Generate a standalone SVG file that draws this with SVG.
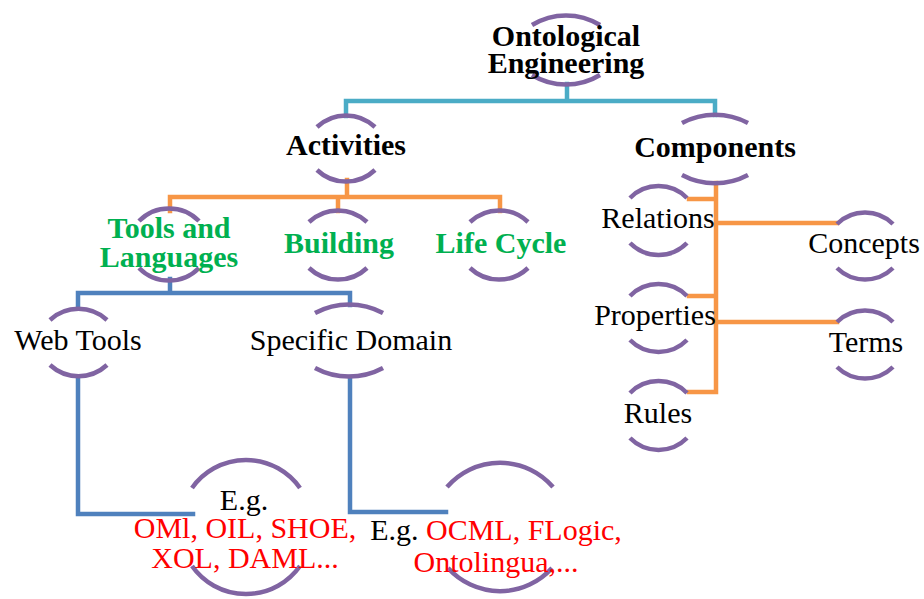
<svg xmlns="http://www.w3.org/2000/svg" width="924" height="599" viewBox="0 0 924 599">
<style>
.arc{fill:none;stroke:#8064A2;stroke-width:4.5;stroke-linecap:butt}
.c{fill:none;stroke-width:4.5;stroke-linejoin:miter;stroke-linecap:square}
.cy{stroke:#4BACC6}
.or{stroke:#F79646}
.bl{stroke:#4F81BD}
text{font-family:"Liberation Serif","Times New Roman",serif;font-size:30px;fill:#000;text-anchor:middle}
.b{font-weight:bold}
.g{fill:#00B050}
.r{fill:#FF0000}
</style>
<rect width="924" height="599" fill="#fff"/>
<g id="connectors">
<path class="c cy" d="M567,84 V101 M346,116 V101 H715 V115"/>
<path class="c or" d="M347,180 V197 M170,211 V197 H500 V211 M338,197 V211"/>
<path class="c or" d="M716,183 V392 H689 M689,199 H716 M716,223 H837 M689,296 H716 M716,322 H837"/>
<path class="c bl" d="M170,279 V293 M78,308 V293 H350 V305"/>
<path class="c bl" d="M78,378 V514 H193 M350,377 V512 H446"/>
</g>
<g id="ontological">
<path class="arc" d="M532,25 A65,65 0 0 1 600,25 M532,75 A65,65 0 0 0 600,75"/>
<text class="b" x="566" y="46">Ontological</text>
<text class="b" x="566" y="73">Engineering</text>
</g>
<g id="activities">
<path class="arc" d="M317,127 A42,42 0 0 1 375,127 M317,170 A42,42 0 0 0 375,170"/>
<text class="b" x="346" y="155">Activities</text>
</g>
<g id="components">
<path class="arc" d="M682,123 A70,70 0 0 1 748,123 M682,175 A70,70 0 0 0 748,175"/>
<text class="b" x="715" y="157">Components</text>
</g>
<g id="tools">
<path class="arc" d="M139,221 A42,42 0 0 1 199,221 M139,268 A42,42 0 0 0 199,268"/>
<text class="b g" x="169" y="238">Tools and</text>
<text class="b g" x="169" y="267">Languages</text>
</g>
<g id="building">
<path class="arc" d="M309,222 A42,42 0 0 1 367,222 M309,268 A42,42 0 0 0 367,268"/>
<text class="b g" x="339" y="253">Building</text>
</g>
<g id="lifecycle">
<path class="arc" d="M470,222 A42,42 0 0 1 528,222 M470,268 A42,42 0 0 0 528,268"/>
<text class="b g" x="501" y="253">Life Cycle</text>
</g>
<g id="webtools">
<path class="arc" d="M50,320 A42,42 0 0 1 107,320 M50,365 A42,42 0 0 0 107,365"/>
<text x="78" y="350">Web Tools</text>
</g>
<g id="specific">
<path class="arc" d="M315,313 A72,72 0 0 1 383,313 M315,368 A72,72 0 0 0 383,368"/>
<text x="351" y="350">Specific Domain</text>
</g>
<g id="relations">
<path class="arc" d="M630,198 A40,40 0 0 1 687,198 M630,243 A40,40 0 0 0 687,243"/>
<text x="658" y="228">Relations</text>
</g>
<g id="properties">
<path class="arc" d="M630,296 A40,40 0 0 1 687,296 M630,340 A40,40 0 0 0 687,340"/>
<text x="655" y="325">Properties</text>
</g>
<g id="rules">
<path class="arc" d="M630,393 A40,40 0 0 1 687,393 M630,438 A40,40 0 0 0 687,438"/>
<text x="658" y="423">Rules</text>
</g>
<g id="concepts">
<path class="arc" d="M837,224 A40,40 0 0 1 893,224 M837,268 A40,40 0 0 0 893,268"/>
<text x="864" y="253">Concepts</text>
</g>
<g id="terms">
<path class="arc" d="M837,322 A40,40 0 0 1 893,322 M837,367 A40,40 0 0 0 893,367"/>
<text x="866" y="352">Terms</text>
</g>
<g id="eg1">
<path class="arc" d="M192,488 A66,66 0 0 1 300,488 M192,566 A66,66 0 0 0 300,566"/>
<text x="244" y="510">E.g.</text>
<text class="r" x="245" y="538">OMl, OIL, SHOE,</text>
<text class="r" x="245" y="568">XOL, DAML...</text>
</g>
<g id="eg2">
<path class="arc" d="M447,487 A70,70 0 0 1 553,487 M448,568 A70,70 0 0 0 552,568"/>
<text x="496" y="540">E.g. <tspan fill="#FF0000">OCML, FLogic,</tspan></text>
<text class="r" x="496" y="572">Ontolingua,...</text>
</g>
</svg>
